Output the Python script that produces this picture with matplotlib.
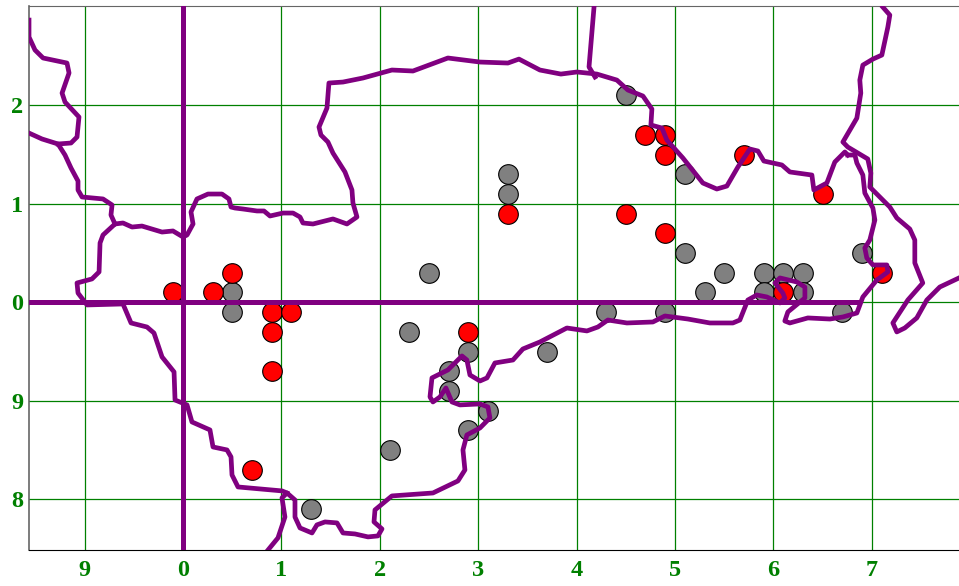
import matplotlib
matplotlib.use("Agg")
import matplotlib.pyplot as plt

# Tick positions and their (wrapped) labels
x_ticks = [-1, 0, 1, 2, 3, 4, 5, 6, 7]
x_tick_labels = ['9', '0', '1', '2', '3', '4', '5', '6', '7']
y_ticks = [-2, -1, 0, 1, 2]
y_tick_labels = ['8', '9', '0', '1', '2']

# Gray points
gray_x = [0.5, 0.5, 1.3, 2.1, 2.3, 2.5, 2.9, 2.7, 2.7, 3.1, 2.9, 3.3, 3.3, 3.7, 4.3, 4.5, 4.9, 5.1, 5.1, 5.3, 5.5, 5.9, 5.9, 6.1, 6.3, 6.3, 6.7, 6.9]
gray_y = [0.1, -0.1, -2.1, -1.5, -0.3, 0.3, -0.5, -0.7, -0.9, -1.1, -1.3, 1.3, 1.1, -0.5, -0.1, 2.1, -0.1, 1.3, 0.5, 0.1, 0.3, 0.3, 0.1, 0.3, 0.3, 0.1, -0.1, 0.5]

# Red points
red_x = [-0.1, 0.3, 0.5, 0.9, 1.1, 0.9, 0.9, 0.7, 2.9, 3.3, 4.5, 4.9, 4.7, 4.9, 4.9, 5.7, 6.5, 6.1, 7.1]
red_y = [0.1, 0.1, 0.3, -0.1, -0.1, -0.3, -0.7, -1.7, -0.3, 0.9, 0.9, 0.7, 1.7, 1.7, 1.5, 1.5, 1.1, 0.1, 0.3]

# Coastline pieces
nw_x = [-1.565, -1.565, -1.504, -1.422, -1.179, -1.158, -1.229, -1.199, -1.057, -1.077, -1.138, -1.270]
nw_y = [2.865, 2.693, 2.561, 2.480, 2.429, 2.328, 2.124, 2.033, 1.881, 1.678, 1.617, 1.607]

west_x = [-1.565, -1.433, -1.270, -1.199, -1.138, -1.067, -1.067, -1.026, -0.813, -0.721, -0.732, -0.691]
west_y = [1.718, 1.658, 1.607, 1.495, 1.363, 1.231, 1.140, 1.069, 1.049, 0.988, 0.886, 0.795]

north_x = [-0.691, -0.610, -0.518, -0.417, -0.213, -0.102, 0, 0.041, 0.102, 0.081, 0.142, 0.254, 0.396, 0.467, 0.488, 0.528,
           0.610, 0.752, 0.823, 0.884, 1.016, 1.118, 1.189, 1.219, 1.321, 1.524, 1.666, 1.768, 1.727, 1.717, 1.646, 1.524,
           1.473, 1.402, 1.382, 1.463, 1.483, 1.626, 1.829, 2.123, 2.337, 2.692, 3.018, 3.302, 3.414, 3.627, 3.840, 4.003,
           4.206, 4.409, 4.521, 4.674, 4.765, 4.755, 4.867, 4.917, 5.080, 5.283, 5.425, 5.527, 5.639, 5.761, 5.842, 5.903,
           6.086, 6.167, 6.391, 6.411, 6.543, 6.624, 6.726, 6.756]
north_y = [0.795, 0.805, 0.764, 0.774, 0.713, 0.724, 0.663, 0.683, 0.795, 0.917, 1.049, 1.099, 1.099, 1.049, 0.967, 0.957,
           0.947, 0.927, 0.927, 0.876, 0.906, 0.906, 0.866, 0.805, 0.795, 0.846, 0.795, 0.866, 1.008, 1.140, 1.323, 1.515,
           1.627, 1.698, 1.779, 1.972, 2.226, 2.236, 2.277, 2.358, 2.348, 2.480, 2.439, 2.429, 2.469, 2.358, 2.317, 2.338,
           2.317, 2.256, 2.155, 2.094, 1.962, 1.800, 1.769, 1.647, 1.465, 1.211, 1.150, 1.180, 1.373, 1.556, 1.536, 1.434,
           1.394, 1.323, 1.292, 1.140, 1.211, 1.424, 1.526, 1.495]

south_x = [6.756, 6.828, 6.848, 6.909, 6.929, 7.011, 7.031, 6.980, 6.929, 6.949, 7.011, 7.153, 7.163, 7.051, 6.909, 6.848,
           6.706, 6.574, 6.350, 6.167, 6.116, 6.147, 6.320, 6.320, 6.238, 6.066, 6.015, 6.096, 6.116, 6.066, 5.933, 5.832,
           5.740, 5.659, 5.588, 5.354, 5.131, 4.897, 4.775, 4.511, 4.318, 4.216, 4.105, 3.901, 3.627, 3.454, 3.353, 3.170,
           3.089, 3.018, 2.916, 2.885, 2.835, 2.692, 2.530, 2.510, 2.540, 2.611, 2.672, 2.733, 2.814, 3.018, 3.099, 3.119,
           3.018, 2.885, 2.845, 2.865, 2.794, 2.540, 2.123, 1.951, 1.941, 2.022, 1.981, 1.880, 1.748, 1.626, 1.565, 1.443,
           1.361, 1.311, 1.189, 1.138, 1.138, 1.057, 1.006, 1.036, 0.965, 0.864]
south_y = [1.495, 1.495, 1.414, 1.292, 1.109, 0.957, 0.835, 0.633, 0.551, 0.450, 0.379, 0.379, 0.308, 0.226, 0.054, -0.109,
           -0.149, -0.170, -0.159, -0.210, -0.190, -0.098, 0.044, 0.155, 0.206, 0.247, 0.196, 0.094, 0.044, -0.007, 0.054, 0.074,
           0.023, -0.180, -0.210, -0.210, -0.170, -0.139, -0.200, -0.210, -0.180, -0.251, -0.291, -0.261, -0.403, -0.474, -0.586, -0.616,
           -0.768, -0.799, -0.738, -0.586, -0.545, -0.687, -0.768, -0.961, -1.012, -0.961, -0.870, -1.012, -1.042, -1.032, -1.063, -1.174,
           -1.276, -1.347, -1.499, -1.702, -1.814, -1.936, -1.966, -2.108, -2.230, -2.301, -2.372, -2.382, -2.352, -2.342, -2.240, -2.230,
           -2.260, -2.342, -2.291, -2.180, -2.007, -1.936, -1.986, -2.180, -2.392, -2.515]

sw_x = [-0.691, -0.813, -0.843, -0.853, -0.925, -1.077, -1.067, -0.975, -0.610, -0.528, -0.366, -0.295, -0.213, -0.091, -0.081,
        0.041, 0.091, 0.274, 0.305, 0.447, 0.488, 0.498, 0.559, 1.006, 1.057]
sw_y = [0.795, 0.683, 0.602, 0.308, 0.237, 0.196, 0.094, -0.027, -0.017, -0.210, -0.251, -0.312, -0.555, -0.707, -0.992,
        -1.042, -1.215, -1.296, -1.469, -1.499, -1.570, -1.753, -1.875, -1.915, -1.936]

ne_x = [7.112, 7.183, 7.163, 7.102, 7.011, 6.909, 6.878, 6.888, 6.848, 6.706, 6.756, 6.959, 6.990, 6.980, 7.183, 7.254, 7.386,
        7.437, 7.437, 7.518, 7.366, 7.214, 7.254, 7.335, 7.457, 7.559, 7.691, 7.886]
ne_y = [2.997, 2.916, 2.794, 2.510, 2.469, 2.408, 2.256, 2.124, 1.870, 1.627, 1.576, 1.455, 1.312, 1.170, 0.967, 0.856, 0.744,
        0.632, 0.399, 0.196, 0.023, -0.210, -0.301, -0.261, -0.159, 0.023, 0.155, 0.247]

stub_x = [4.177, 4.126, 4.187]
stub_y = [2.997, 2.389, 2.287]

coast = [(nw_x, nw_y), (west_x, west_y), (north_x, north_y), (south_x, south_y), (sw_x, sw_y), (ne_x, ne_y), (stub_x, stub_y)]

# Extent of the thick axis lines
hline_x = [-1.565, 6.85]
hline_y = [0, 0]
vline_x = [0, 0]
vline_y = [-2.515, 3.008]

purple = '#800080'

fig = plt.figure(figsize=(9.59, 5.86), dpi=100)
ax = fig.add_axes([29 / 959, 36 / 586, 930 / 959, 544 / 586])

ax.grid(True, color='green', linewidth=0.9)
ax.set_axisbelow(True)

ax.scatter(gray_x, gray_y, s=200, c='gray', edgecolors='black', linewidths=0.8, zorder=2)
ax.scatter(red_x, red_y, s=200, c='red', edgecolors='black', linewidths=0.8, zorder=2.1)

for cx, cy in coast:
    ax.plot(cx, cy, color=purple, linewidth=3.4, solid_joinstyle='round', zorder=3)

ax.plot(hline_x, hline_y, color=purple, linewidth=3.6, zorder=3)
ax.plot(vline_x, vline_y, color=purple, linewidth=3.6, zorder=3)

ax.set_xlim(-1.565, 7.886)
ax.set_ylim(-2.515, 3.008)
ax.set_xticks(x_ticks)
ax.set_xticklabels(x_tick_labels)
ax.set_yticks(y_ticks)
ax.set_yticklabels(y_tick_labels)
ax.tick_params(length=0, labelcolor='green')
ax.tick_params(axis='x', pad=7)
ax.tick_params(axis='y', pad=4)
for label in ax.get_xticklabels() + ax.get_yticklabels():
    label.set_family('Liberation Serif')
    label.set_fontweight('bold')
    label.set_fontsize(17.5)

ax.spines['right'].set_visible(False)
ax.spines['top'].set_color('#666666')
ax.spines['left'].set_color('#666666')
ax.spines['left'].set_linewidth(1.2)
ax.spines['bottom'].set_color('black')

plt.savefig('out.png', dpi=100)
